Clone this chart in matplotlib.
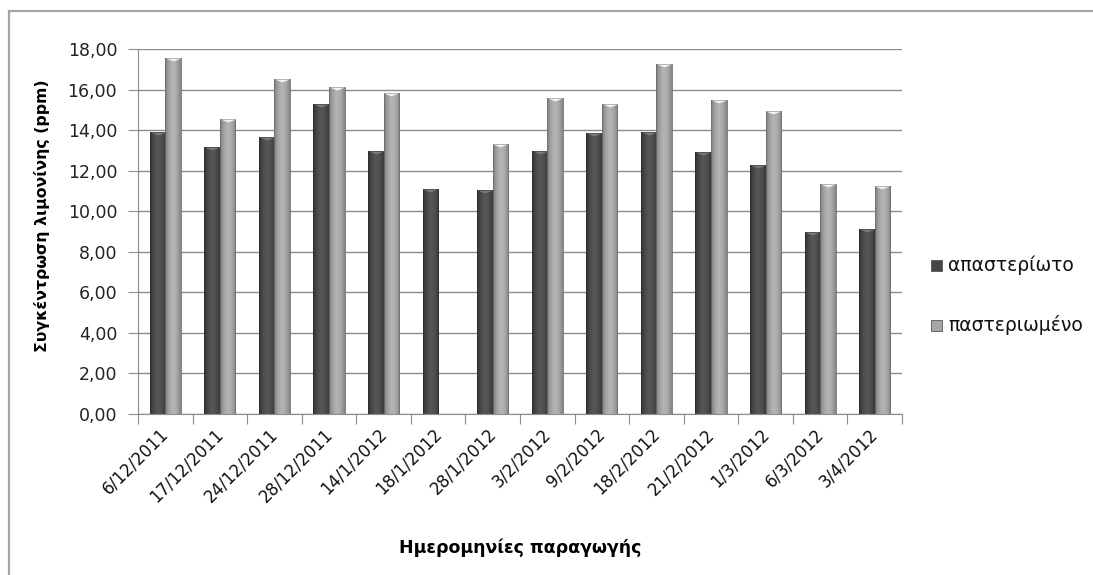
import numpy as np
import matplotlib
matplotlib.use("Agg")
import matplotlib.pyplot as plt
import matplotlib.transforms as mtransforms
from matplotlib.patches import Rectangle
from matplotlib.colors import LinearSegmentedColormap

plt.rcParams['font.family'] = ['DejaVu Sans']

# Production dates and limonene concentration (ppm)
dates = ["6/12/2011", "17/12/2011", "24/12/2011", "28/12/2011", "14/1/2012",
         "18/1/2012", "28/1/2012", "3/2/2012", "9/2/2012", "18/2/2012",
         "21/2/2012", "1/3/2012", "6/3/2012", "3/4/2012"]
unpasteurised = [13.90, 13.18, 13.64, 15.27, 12.98, 11.11, 11.03,
                 12.98, 13.84, 13.90, 12.92, 12.26, 9.00, 9.12]
pasteurised = [17.54, 14.55, 16.50, 16.11, 15.81, 0.0, 13.30,
               15.60, 15.27, 17.24, 15.47, 14.94, 11.36, 11.24]
series_names = ["απαστερίωτο", "παστεριωμένο"]
y_ticks = [0, 2, 4, 6, 8, 10, 12, 14, 16, 18]

W, H = 1093, 575
fig = plt.figure(figsize=(W / 100, H / 100), dpi=100)
ax = fig.add_axes([138 / W, 1 - 414 / H, (902 - 138) / W, (414 - 49) / H])

# outer chart frame (only left and top edges fall inside the image)
fig.patches.append(Rectangle((8.5 / W, -0.1), 1.2, 1 - 11 / H + 0.1,
                             transform=fig.transFigure, fill=False,
                             edgecolor="#a6a6a6", linewidth=1.6, zorder=0))

x = np.arange(len(dates))
bw = 0.285

# cylinder-like horizontal shading for each series
dark_cmap = LinearSegmentedColormap.from_list(
    "dk", ["#333333", "#4a4a4a", "#575757", "#4f4f4f", "#3a3a3a"])
light_cmap = LinearSegmentedColormap.from_list(
    "lt", ["#7e7e7e", "#a4a4a4", "#b6b6b6", "#a8a8a8", "#858585"])
grad = np.linspace(0, 1, 64).reshape(1, -1)

def shaded_bars(xpos, vals, cmap, cap_color, edge):
    bars = ax.bar(xpos, vals, bw, color="none", edgecolor=edge,
                  linewidth=0.6, zorder=3)
    for b in bars:
        h = b.get_height()
        if h <= 0:
            continue
        x0 = b.get_x()
        im = ax.imshow(grad, cmap=cmap, aspect="auto",
                       extent=[x0, x0 + b.get_width(), 0, h],
                       zorder=2.5, interpolation="bilinear")
        im.set_clip_path(b)
    # small bevel cap on top of each bar
    mask = np.asarray(vals) > 0
    ax.plot(np.asarray(xpos)[mask], np.asarray(vals)[mask], linestyle="none",
            marker=[(-1, 0), (1, 0), (0, -0.38)], markersize=11,
            markerfacecolor=cap_color, markeredgewidth=0, zorder=4)
    return bars

b1 = shaded_bars(x - bw / 2, unpasteurised, dark_cmap, "#7a7a7a", "#2e2e2e")
b2 = shaded_bars(x + bw / 2, pasteurised, light_cmap, "#f2f2f2", "#6e6e6e")

ax.set_xlim(-0.5, len(dates) - 0.5)
ax.set_ylim(0, 18)
ax.set_yticks(y_ticks)
ax.set_yticklabels([f"{v:.2f}".replace(".", ",") for v in y_ticks],
                   fontsize=12.5, color="#222222")
ax.yaxis.grid(True, color="#8c8c8c", linewidth=1.0, zorder=0)
ax.set_axisbelow(True)

for s in ["top", "right"]:
    ax.spines[s].set_visible(False)
ax.spines["left"].set_color("#8c8c8c")
ax.spines["bottom"].set_color("#8c8c8c")
ax.tick_params(axis="y", length=7, color="#8c8c8c", pad=8)

# major ticks between categories, labels at the category centres
ax.set_xticks(np.arange(len(dates) + 1) - 0.5)
ax.set_xticklabels([])
ax.set_xticks(x, minor=True)
ax.set_xticklabels(dates, minor=True, rotation=45, ha="right", va="top",
                   fontsize=12, color="#111111")
ax.tick_params(axis="x", which="major", length=7, color="#8c8c8c")
ax.tick_params(axis="x", which="minor", length=0, pad=8)
shift = mtransforms.ScaledTranslation(0.07, 0, fig.dpi_scale_trans)
for lbl in ax.get_xticklabels(minor=True):
    lbl.set_transform(lbl.get_transform() + shift)

fig.text(520 / W, 1 - 548 / H, "Ημερομηνίες παραγωγής", ha="center",
         va="center", fontsize=12.5, fontweight="bold")
fig.text(42 / W, 1 - 216 / H, "Συγκέντρωση λιμονίνης (ppm)", ha="center",
         va="center", rotation=90, fontsize=11.3, fontweight="bold")

# legend
for name, yy, col in [(series_names[0], 265, "#454545"),
                      (series_names[1], 325, "#a6a6a6")]:
    fig.patches.append(Rectangle((931 / W, 1 - (yy + 5.5) / H), 11 / W, 11 / H,
                                 transform=fig.transFigure, facecolor=col,
                                 edgecolor="#555555", linewidth=0.6))
    fig.text(948 / W, 1 - yy / H, name, ha="left", va="center",
             fontsize=13.5, color="#111111")

fig.savefig("out.png", dpi=100, facecolor="white")
